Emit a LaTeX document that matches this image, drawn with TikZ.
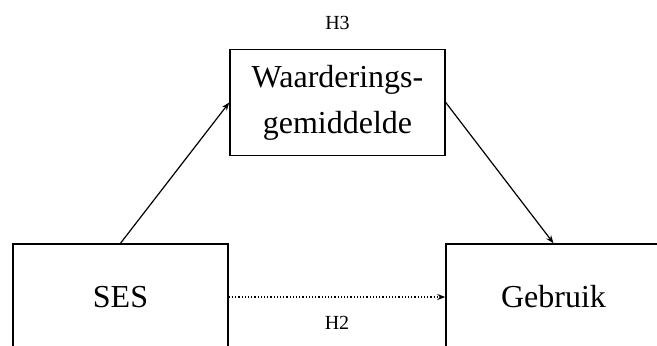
\documentclass[tikz,border=0pt]{standalone}
\usepackage{fontspec}
\setmainfont{Liberation Serif}
\usetikzlibrary{arrows.meta}
\tikzset{
  varbox/.style={draw, line width=0.75pt, minimum width=107.5pt, minimum height=53pt, align=center, font=\fontsize{16}{23}\selectfont},
  hyplabel/.style={font=\fontsize{10}{12}\selectfont},
  pijl/.style={-{Stealth[length=4pt,width=3pt]}, line width=0.6pt}
}
\begin{document}
\begin{tikzpicture}[x=0.5pt,y=-0.5pt]
    \useasboundingbox (0,0) rectangle (657,345);
    \node[varbox] (wg) at (337.5,102.5) {Waarderings-\\gemiddelde};
    \node[varbox] (ses) at (120.5,297) {SES};
    \node[varbox] (geb) at (553.5,297) {Gebruik};
    \node[hyplabel] (h3) at (337.5,23) {H3};
    \draw [pijl] (ses.north) -- (wg.west);
    \draw [pijl] (wg.east) -- (geb.north);
    \draw [pijl, densely dotted] (ses.east) -- (geb.west) node[hyplabel, midway, below=6pt] (h2) {H2};
  \end{tikzpicture}
\end{document}
